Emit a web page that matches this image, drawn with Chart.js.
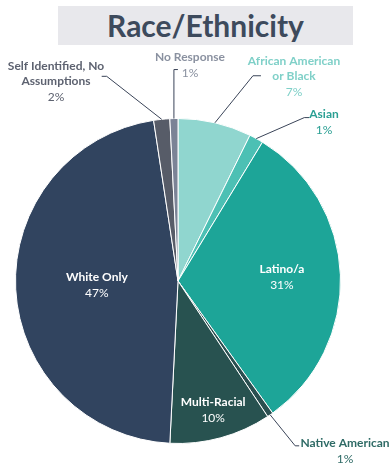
<!DOCTYPE html>
<html>
<head>
<meta charset="utf-8">
<script src="https://cdn.jsdelivr.net/npm/chart.js@4"></script>
<style>
  html, body { margin: 0; padding: 0; background: #fff; }
  #wrap { position: relative; width: 389px; height: 466px; }
  #title {
    position: absolute; left: 58px; top: 6px; width: 295px; height: 39px;
    background: #e8e8ec; color: #3d4a5c;
    font: bold 30px Lato, "Open Sans", sans-serif;
    text-align: center; line-height: 39px;
  }
  canvas { position: absolute; left: 0; top: 0; }
</style>
</head>
<body>
<div id="wrap">
  <canvas id="pie" width="389" height="466"></canvas>
  <div id="title">Race/Ethnicity</div>
</div>
<script>
const labels = [
    ['African American', 'or Black'],
    ['Asian'],
    ['Latino/a'],
    ['Native American'],
    ['Multi-Racial'],
    ['White Only'],
    ['Self Identified, No', 'Assumptions'],
    ['No Response']
];
const values = [7.3, 1.4, 31.4, 0.6, 10.1, 46.8, 1.6, 0.8];
const shown = ['7%', '1%', '31%', '1%', '10%', '47%', '2%', '1%'];

const sliceColors = ['#90d6cf', '#4cc0b4', '#1da598', '#2a4f50', '#285250', '#31445f', '#575c68', '#7b8396'];
const textColors = ['#7fd0c8', '#2a9f93', '#ffffff', '#2f6b66', '#ffffff', '#ffffff', '#5d6270', '#8a91a0'];

// label placement: inside (radius factor) or outside (elbow offset, tick, text anchor)
const place = [
    { out: true, elbow: [38, -47], tick: 8, text: [294, 61] },
    { out: true, elbow: [48, -21], tick: 5, text: [324, 114] },
    { out: false, r: 0.64 },
    { out: true, elbow: [25, 31], tick: 4, text: [345, 443] },
    { out: false, r: 0.82 },
    { out: false, r: 0.5 },
    { out: true, elbow: [-55, -43], tick: -5, text: [56, 66] },
    { out: true, elbow: [0, -49], tick: 4, text: [190, 57] }
];

const labelPlugin = {
    id: 'sliceLabels',
    afterDraw(chart) {
        const ctx = chart.ctx;
        const arcs = chart.getDatasetMeta(0).data;
        ctx.save();
        ctx.textAlign = 'center';
        ctx.textBaseline = 'middle';
        arcs.forEach((arc, i) => {
            const p = place[i];
            const mid = (arc.startAngle + arc.endAngle) / 2;
            const lineH = 15;
            let tx, ty;
            if (p.out) {
                const sx = arc.x + Math.cos(mid) * arc.outerRadius;
                const sy = arc.y + Math.sin(mid) * arc.outerRadius;
                const ex = sx + p.elbow[0], ey = sy + p.elbow[1];
                ctx.strokeStyle = '#3a4458';
                ctx.lineWidth = 1;
                ctx.beginPath();
                ctx.moveTo(sx, sy);
                ctx.lineTo(ex, ey);
                ctx.lineTo(ex + p.tick, ey);
                ctx.stroke();
                tx = p.text[0]; ty = p.text[1];
            } else {
                tx = arc.x + Math.cos(mid) * arc.outerRadius * p.r;
                ty = arc.y + Math.sin(mid) * arc.outerRadius * p.r - lineH / 2;
            }
            ctx.fillStyle = textColors[i];
            ctx.font = 'bold 12px Lato, "Open Sans", sans-serif';
            labels[i].forEach((t, k) => ctx.fillText(t, tx, ty + k * lineH));
            ctx.font = '12px Lato, "Open Sans", sans-serif';
            ctx.fillText(shown[i], tx, ty + labels[i].length * lineH + 1);
        });
        ctx.restore();
    }
};

new Chart(document.getElementById('pie'), {
    type: 'pie',
    data: {
        labels: labels.map(l => l.join(' ')),
        datasets: [{
            data: values,
            backgroundColor: sliceColors,
            borderColor: '#ffffff',
            borderWidth: 1
        }]
    },
    options: {
        responsive: false,
        animation: false,
        layout: { padding: { left: 15, right: 48, top: 118, bottom: 22 } },
        plugins: {
            legend: { display: false },
            tooltip: { enabled: false }
        }
    },
    plugins: [labelPlugin]
});
</script>
</body>
</html>
